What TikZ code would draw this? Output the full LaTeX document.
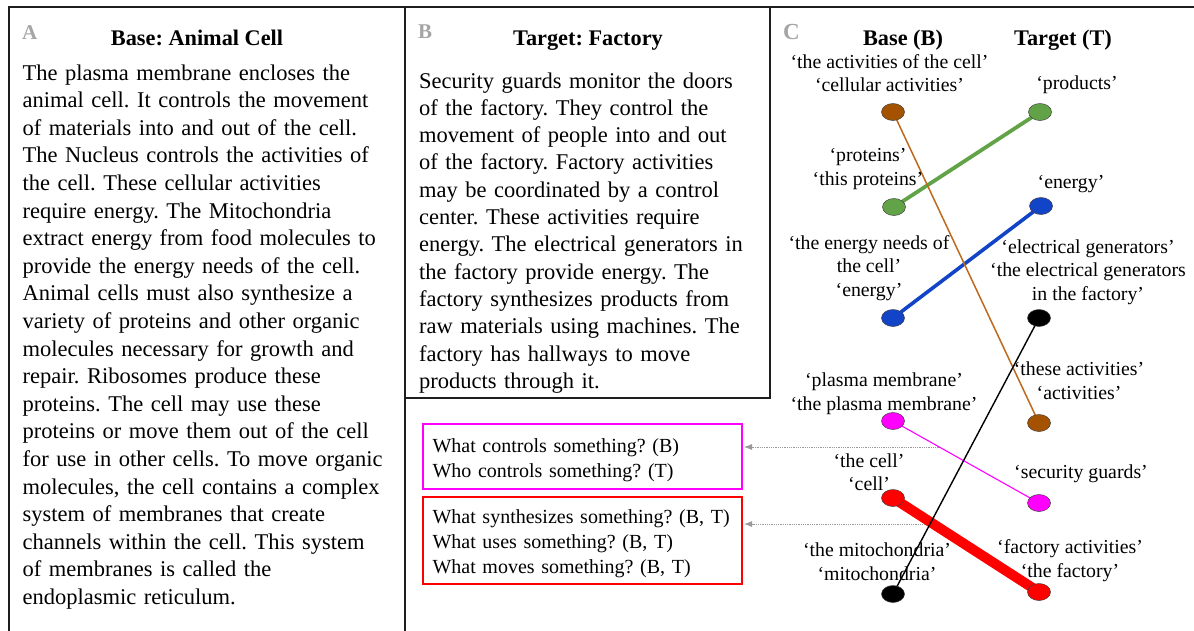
\documentclass[tikz,border=0pt]{standalone}
\usepackage{fontspec}
\setmainfont{Liberation Serif}
\usetikzlibrary{shapes.geometric,arrows.meta,backgrounds,calc}
\definecolor{cbrown}{RGB}{165,82,0}
\definecolor{cbrownl}{RGB}{190,105,30}
\definecolor{cgreen}{RGB}{98,163,72}
\definecolor{cblue}{RGB}{18,68,200}
\definecolor{cmag}{RGB}{255,0,255}
\definecolor{cred}{RGB}{255,0,0}
\definecolor{plabel}{RGB}{165,165,165}
\definecolor{frm}{RGB}{30,30,30}
\tikzset{
  frame/.style={line width=1.5pt, draw=frm},
  body/.style={font=\fontsize{22.5}{27.6}\selectfont, text width=400pt, align=left, anchor=base west, inner sep=0pt},
  ttl/.style={font=\bfseries\fontsize{22.3}{27}\selectfont, anchor=base, inner sep=0pt},
  plab/.style={font=\bfseries\fontsize{21}{24}\selectfont, text=plabel, anchor=base west, inner sep=0pt},
  lab/.style={font=\fontsize{19.8}{23.5}\selectfont, align=center, anchor=base, inner sep=0pt},
  pt/.style={ellipse, draw=black!75, line width=0.5pt, minimum width=23pt, minimum height=17pt, inner sep=0pt},
  qbox/.style={line width=2pt, font=\fontsize{20}{25.2}\selectfont, text width=300pt, align=left, minimum width=319pt, inner xsep=0pt, inner ysep=0pt},
  qarrow/.style={densely dotted, draw=black!40, line width=0.8pt, -{Latex[length=8pt,width=6pt]}, shorten >=1pt},
}
\begin{document}
\frenchspacing
\begin{tikzpicture}[x=1pt,y=-1pt]
\useasboundingbox (0,0) rectangle (1194,630);
% frames
\draw[frame] (8,7) -- (1194,7);
\draw[frame] (9,7) -- (9,632);
\draw[frame] (405,7) -- (405,632);
\draw[frame] (770,7) -- (770,398) -- (405,398);
% panel letters
\node[plab] (pA) at (22,39) {A};
\node[plab] (pB) at (418,38) {B};
\node[plab, font=\bfseries\fontsize{23}{26}\selectfont] (pC) at (783,39) {C};
% titles
\node[ttl] (tA) at (197,45) {Base: Animal Cell};
\node[ttl] (tB) at (588,45) {Target: Factory};
% panel A text
\node[body] (txA) at (22.5,80) {The plasma membrane encloses the\\
animal cell. It controls the movement\\
of materials into and out of the cell.\\
The Nucleus controls the activities of\\
the cell. These cellular activities\\
require energy. The Mitochondria\\
extract energy from food molecules to\\
provide the energy needs of the cell.\\
Animal cells must also synthesize a\\
variety of proteins and other organic\\
molecules necessary for growth and\\
repair. Ribosomes produce these\\
proteins. The cell may use these\\
proteins or move them out of the cell\\
for use in other cells. To move organic\\
molecules, the cell contains a complex\\
system of membranes that create\\
channels within the cell. This system\\
of membranes is called the\\
endoplasmic reticulum.};
% panel B text
\node[body, font=\fontsize{22.5}{27.3}\selectfont] (txB) at (419,88) {Security guards monitor the doors\\
of the factory. They control the\\
movement of people into and out\\
of the factory. Factory activities\\
may be coordinated by a control\\
center. These activities require\\
energy. The electrical generators in\\
the factory provide energy. The\\
factory synthesizes products from\\
raw materials using machines. The\\
factory has hallways to move\\
products through it.};
% question boxes
\node[qbox, draw=cmag, minimum height=65pt] (qm) at (582.5,456.5) {\rule{0pt}{22pt}What controls something? (B)\\Who controls something? (T)};
\node[qbox, draw=cred, minimum height=87pt] (qr) at (582.5,540.5) {\rule{0pt}{20pt}What synthesizes something? (B, T)\\What uses something? (B, T)\\What moves something? (B, T)};
% panel C headings
\node[ttl] (hB) at (903,45) {Base (B)};
\node[ttl] (hT) at (1063,45) {Target (T)};
% labels (anchor = baseline of last line)
\node[lab] (l1) at (889.5,91.5) {‘the activities of the cell’\\‘cellular activities’};
\node[lab] (l2) at (1077,89) {‘products’};
\node[lab] (l3) at (868,185) {‘proteins’\\‘this proteins’};
\node[lab] (l4) at (1071,188) {‘energy’};
\node[lab] (l5) at (869,296) {‘the energy needs of\\the cell’\\‘energy’};
\node[lab] (l6) at (1088,300) {‘electrical generators’\\‘the electrical generators\\in the factory’};
\node[lab] (l7) at (1079,399) {‘these activities’\\‘activities’};
\node[lab] (l8) at (884,410) {‘plasma membrane’\\‘the plasma membrane’};
\node[lab] (l9) at (869,490.5) {‘the cell’\\‘cell’};
\node[lab] (l10) at (1081,478) {‘security guards’};
\node[lab] (l11) at (877,580) {‘the mitochondria’\\‘mitochondria’};
\node[lab] (l12) at (1070,577) {‘factory activities’\\‘the factory’};
% points
\node[pt, fill=cbrown] (bB1) at (893,112) {};
\node[pt, fill=cgreen] (gT) at (1040,112) {};
\node[pt, fill=cgreen] (gB) at (894,207) {};
\node[pt, fill=cblue] (uT) at (1041,206) {};
\node[pt, fill=cblue] (uB) at (893,318) {};
\node[pt, fill=black] (kT) at (1039,318) {};
\node[pt, fill=cbrown] (bT) at (1039,423) {};
\node[pt, fill=cmag] (mB) at (893,421) {};
\node[pt, fill=cmag] (mT) at (1039,503) {};
\node[pt, fill=cred] (rB) at (893,498) {};
\node[pt, fill=black] (kB) at (893,594) {};
\node[pt, fill=cred] (rT) at (1039,592) {};
\coordinate (am) at ($(mB)!0.317!(mT)$);
\coordinate (ar) at ($(rB)!0.277!(rT)$);
\begin{pgfonlayer}{background}
\draw[qarrow] (am) -- (am -| qm.east);
\draw[qarrow] (ar) -- (ar -| qr.east);
\draw[cred, line width=10pt] (rB.center) -- (rT.center);
\draw[cgreen, line width=3.8pt] (gB.center) -- (gT.center);
\draw[cblue, line width=3.6pt] (uB.center) -- (uT.center);
\draw[cbrownl, line width=1.5pt] (bB1.center) -- (bT.center);
\draw[cmag, line width=1.1pt] (mB.center) -- (mT.center);
\draw[black, line width=1.4pt] (kT.center) -- (kB.center);
\end{pgfonlayer}
\end{tikzpicture}
\end{document}
